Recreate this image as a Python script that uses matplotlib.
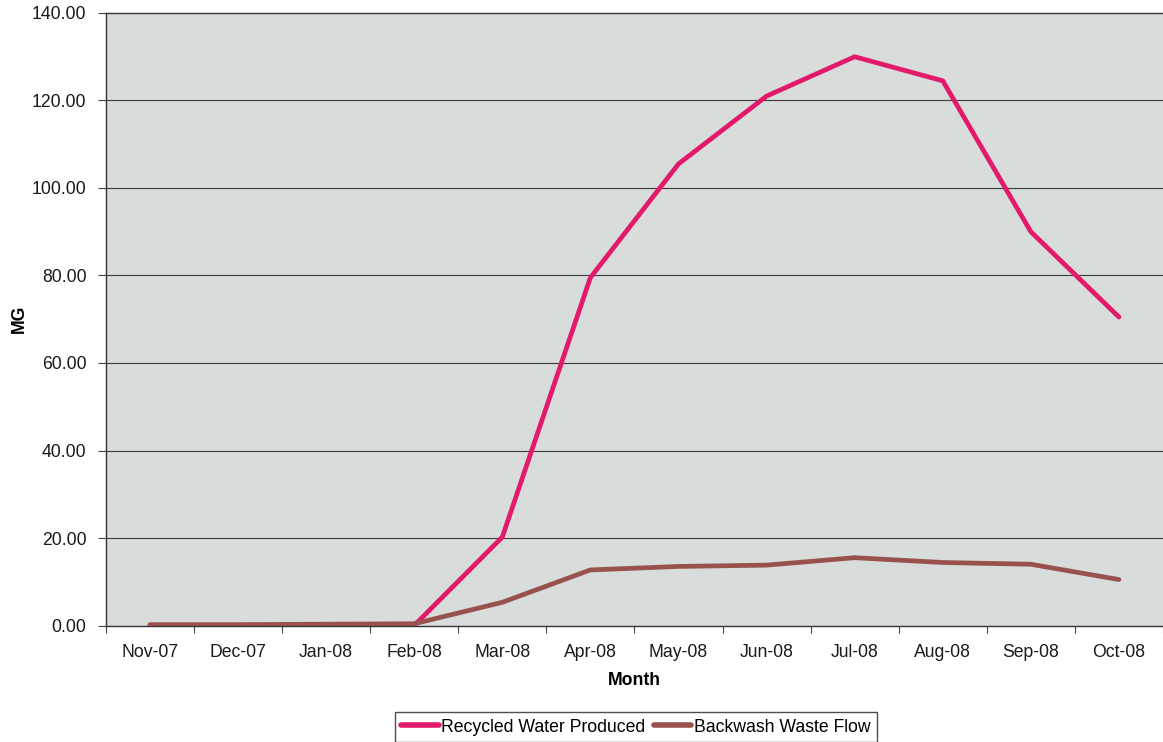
import numpy as np
import matplotlib.pyplot as plt

plt.rcParams['font.family'] = ['Liberation Sans', 'DejaVu Sans']

months = ['Nov-07', 'Dec-07', 'Jan-08', 'Feb-08', 'Mar-08', 'Apr-08',
          'May-08', 'Jun-08', 'Jul-08', 'Aug-08', 'Sep-08', 'Oct-08']
recycled = [0.0, 0.0, 0.0, 0.0, 20.2, 79.5, 105.5, 121.0, 130.0, 124.5, 90.0, 70.5]
backwash = [0.2, 0.2, 0.3, 0.4, 5.3, 12.7, 13.5, 13.8, 15.5, 14.4, 14.0, 10.5]
yticks = [0, 20, 40, 60, 80, 100, 120, 140]

fig = plt.figure(figsize=(11.63, 7.42), dpi=100)
ax = fig.add_axes([0.091, 0.157, 0.909, 0.8255])
ax.set_facecolor('#d8dcdb')

x = np.arange(len(months))
ax.plot(x, recycled, color='#e3196c', lw=3.4, solid_joinstyle='round',
        solid_capstyle='round', label='Recycled Water Produced', zorder=3)
ax.plot(x, backwash, color='#98514d', lw=3.4, solid_joinstyle='round',
        solid_capstyle='round', label='Backwash Waste Flow', zorder=4)

ax.set_xlim(-0.5, len(months) - 0.5)
ax.set_ylim(0, 140)

# labels sit at the centres, tick marks at the category boundaries
ax.set_xticks(x)
ax.set_xticklabels(months, fontsize=12.7, color='#1a1a1a')
ax.tick_params(axis='x', which='major', length=0, pad=13)
ax.set_xticks(np.arange(-0.5, len(months)), minor=True)
ax.tick_params(axis='x', which='minor', length=5, width=0.8, color='#444444')

ax.set_yticks(yticks)
ax.set_yticklabels(['%.2f' % v for v in yticks], fontsize=12.7, color='#1a1a1a')
ax.tick_params(axis='y', length=6, width=0.8, color='#444444', pad=8)

for v in yticks[1:-1]:
    ax.axhline(v, color='#3a3a3a', lw=0.8, zorder=1)

for side in ['left', 'bottom', 'top']:
    ax.spines[side].set_color('#333333')
    ax.spines[side].set_linewidth(1.0)
ax.spines['right'].set_visible(False)

ax.set_xlabel('Month', fontsize=12.7, fontweight='bold', labelpad=8)
ax.set_ylabel('MG', fontsize=12.7, fontweight='bold', labelpad=3)

leg = fig.legend(loc='center', bbox_to_anchor=(636 / 1163, 1 - 727 / 742), ncol=2,
                 fontsize=12.7, frameon=True, fancybox=False, handlelength=2.1,
                 handletextpad=0.15, columnspacing=0.5, borderpad=0.35,
                 borderaxespad=0.2)
leg.get_frame().set_edgecolor('#222222')
leg.get_frame().set_linewidth(1.0)
for line in leg.get_lines():
    line.set_linewidth(4)

fig.savefig('out.png', dpi=100)
